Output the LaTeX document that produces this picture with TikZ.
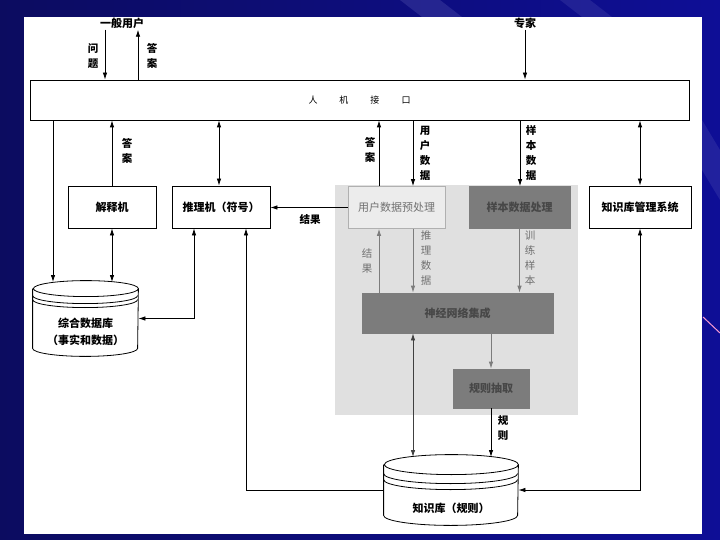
\documentclass[tikz,border=0pt]{standalone}
\usepackage{fontspec}
\usepackage{tikz}
\usetikzlibrary{arrows.meta,positioning,calc}
\newfontfamily\cjk{Noto Sans CJK SC}
\definecolor{SLDnavy}{RGB}{12,12,96}
\definecolor{SLDblue}{RGB}{14,14,150}
\definecolor{PHOTObg}{RGB}{224,224,224}
\definecolor{PHOTOlight}{RGB}{236,236,236}
\definecolor{PHOTOdark}{RGB}{124,124,124}
\definecolor{PHOTOtext}{RGB}{112,112,112}
\tikzstyle{sbox}  = [rectangle, draw, line width=0.8pt, fill=white,
                     minimum height=42pt, align=center, inner sep=2pt,
                     font=\cjk\bfseries\fontsize{11}{13}\selectfont]
\tikzstyle{gbox}  = [sbox, draw=PHOTOdark!60, fill=PHOTOlight, text=PHOTOtext,
                     font=\cjk\fontsize{11}{13}\selectfont]
\tikzstyle{dbox}  = [sbox, draw=PHOTOdark, fill=PHOTOdark, text=black!72,
                     font=\cjk\bfseries\fontsize{11}{13}\selectfont]
\tikzstyle{tlab}  = [inner sep=1pt, font=\cjk\bfseries\fontsize{11}{13}\selectfont]
\tikzstyle{vlab}  = [align=center, inner sep=0pt,
                     font=\cjk\bfseries\fontsize{10.5}{15}\selectfont]
\tikzstyle{glab}  = [vlab, text=PHOTOtext, font=\cjk\fontsize{10.5}{15}\selectfont]
\tikzstyle{garrow}= [->, draw=PHOTOdark, fill=PHOTOdark]
\tikzstyle{drum}  = [rectangle, inner sep=0pt]

\begin{document}
\begin{tikzpicture}[x=1pt, y=-1pt, >={Latex[length=7pt,width=4.5pt]}, line width=0.8pt]
  \useasboundingbox (0,0) rectangle (720,540);
  \shade[left color=SLDnavy, right color=SLDblue] (0,0) rectangle (720,540);
  \fill[SLDblue!60!white, opacity=0.25] (400,0) -- (440,0) -- (462,17) -- (422,17) -- cycle;
  \fill[SLDblue!60!white, opacity=0.2] (560,0) -- (590,0) -- (612,17) -- (582,17) -- cycle;
  \fill[SLDblue!60!white, opacity=0.2] (702,120) -- (720,150) -- (720,200) -- (702,170) -- cycle;
  \draw[magenta!40!white, line width=1pt] (703,317) -- (720,333);
  \fill[white] (24,17) rectangle (702,534);
  \fill[PHOTObg] (335,185) rectangle (578,415);

  \node[tlab] (user) at (122,23) {一般用户};
  \node[tlab] (expert) at (525,23) {专家};
  \node[sbox, minimum width=659pt, minimum height=40pt,
        font=\cjk\fontsize{9}{11}\selectfont] (hmi) at (359.5,100)
        {人\hspace{22pt}机\hspace{22pt}接\hspace{22pt}口};

  \node[sbox, minimum width=88pt]  (expl)  at (112,207) {解释机};
  \node[sbox, minimum width=98pt]  (infer) at (221,207) {推理机（符号）};
  \node[sbox, minimum width=102pt] (kbm)   at (640,207) {知识库管理系统};
  \node[gbox, minimum width=97pt]  (pre)   at (396.5,207.5) {用户数据预处理};
  \node[dbox, minimum width=101pt] (samp)  at (519.5,207.5) {样本数据处理};
  \node[dbox, minimum width=191pt, minimum height=40pt] (nn)   at (457.5,313) {神经网络集成};
  \node[dbox, minimum width=76pt,  minimum height=39pt] (rule) at (491,388.5) {规则抽取};

  \node[drum, minimum width=105pt, minimum height=75pt] (db) at (85.5,318.5) {};
  \draw[fill=white] ($(db.north west)+(0,8)$) -- ($(db.south west)+(0,-8)$)
    arc[start angle=180, end angle=360, x radius=52.5pt, y radius=8pt]
    -- ($(db.north east)+(0,8)$)
    arc[start angle=0, end angle=360, x radius=52.5pt, y radius=8pt];
  \draw ($(db.north west)+(0,15)$) arc[start angle=180, end angle=360, x radius=52.5pt, y radius=8pt];
  \draw ($(db.north west)+(0,19)$) arc[start angle=180, end angle=360, x radius=52.5pt, y radius=8pt];
  \node[vlab, font=\cjk\bfseries\fontsize{11}{17}\selectfont] (dbtxt) at (85.5,332) {综合数据库\\（事实和数据）};
  \coordinate (dbtop) at (85.5,282);

  \node[drum, minimum width=134pt, minimum height=70pt] (kb) at (451,490) {};
  \draw[fill=white] ($(kb.north west)+(0,10)$) -- ($(kb.south west)+(0,-10)$)
    arc[start angle=180, end angle=360, x radius=67pt, y radius=10pt]
    -- ($(kb.north east)+(0,10)$)
    arc[start angle=0, end angle=360, x radius=67pt, y radius=10pt];
  \draw ($(kb.north west)+(0,19)$) arc[start angle=180, end angle=360, x radius=67pt, y radius=10pt];
  \draw ($(kb.north west)+(0,25)$) arc[start angle=180, end angle=360, x radius=67pt, y radius=10pt];
  \node[tlab] (kbtxt) at (451,508) {知识库（规则）};
  \coordinate (kbtop) at (451,457);

  \draw[->] (105,0 |- user.south) -- (105,0 |- hmi.north);
  \draw[<-] (138,0 |- user.south) -- (138,0 |- hmi.north);
  \draw[->] (expert) -- (expert |- hmi.north);
  \node[vlab] (qlab) at (93,56) {问\\题};
  \node[vlab] (alab) at (152,56) {答\\案};

  \draw[->] (53,0 |- hmi.south) -- (53,0 |- dbtop);
  \draw[->] (expl.north) -- (expl.north |- hmi.south);
  \draw[<->] (expl.south) -- (expl.south |- dbtop);
  \draw[<->] (219,0 |- hmi.south) -- (219,0 |- infer.north);
  \draw[<->] (194,0 |- infer.south) |- (db.east);
  \draw[<-] (246,0 |- infer.south) |- (kb.west);
  \draw[->] (379,0 |- pre.north) -- (379,0 |- hmi.south);
  \draw[->] (413,0 |- hmi.south) -- (413,0 |- pre.north);
  \draw[->] (520,0 |- hmi.south) -- (520,0 |- samp.north);
  \draw[<->] (kbm.north |- hmi.south) -- (kbm.north);
  \draw[<->] (kbm.south) |- (kb.east);
  \draw[->] (pre.west) -- (pre.west -| infer.east);
  \node[vlab] (alab1) at (127,151) {答\\案};
  \node[vlab] (alab2) at (370,150) {答\\案};
  \node[vlab] (udlab) at (425,153) {用\\户\\数\\据};
  \node[vlab] (sdlab) at (531,153) {样\\本\\数\\据};
  \node[vlab] (reslab) at (310,219) {结果};

  \draw[garrow] (379,0 |- nn.north) -- (379,0 |- pre.south);
  \draw[garrow] (413,0 |- pre.south) -- (413,0 |- nn.north);
  \draw[garrow] (samp.south) -- (samp.south |- nn.north);
  \draw[garrow] (rule.north |- nn.south) -- (rule.north);
  \node[glab] (gres) at (367,261) {结\\果};
  \node[glab] (gdata) at (426,258) {推\\理\\数\\据};
  \node[glab] (gtrain) at (530,258) {训\\练\\样\\本};

  \draw[<->, black!75] (413,0 |- nn.south) -- (413,0 |- kbtop);
  \draw[->] (rule.south) -- (rule.south |- kbtop);
  \node[vlab] (rlab) at (503,428) {规\\则};
\end{tikzpicture}
\end{document}
